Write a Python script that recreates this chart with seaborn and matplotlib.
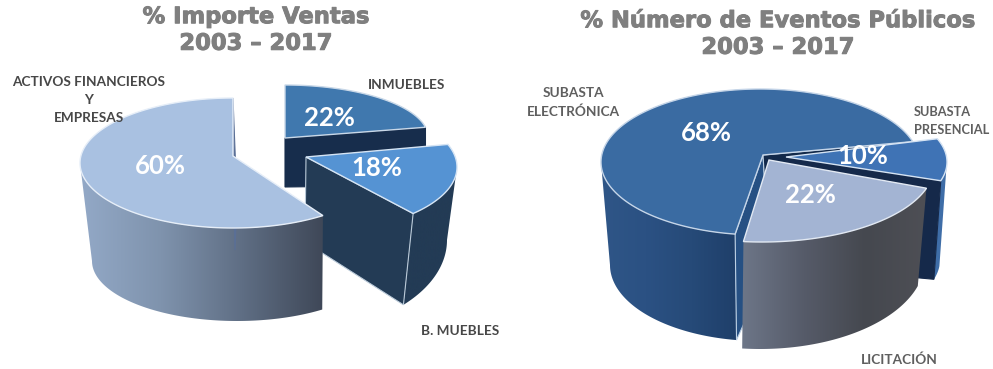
import numpy as np
import matplotlib
matplotlib.use("Agg")
import matplotlib.pyplot as plt
from matplotlib.patches import Polygon
import matplotlib.patheffects as pe
import seaborn as sns

# Shares per chart, in percent
importe_categories = ["INMUEBLES", "B. MUEBLES", "ACTIVOS FINANCIEROS\nY\nEMPRESAS"]
importe_values = [22, 18, 60]
eventos_categories = ["SUBASTA\nELECTRÓNICA", "SUBASTA\nPRESENCIAL", "LICITACIÓN"]
eventos_values = [68, 10, 22]
importe_title = "% Importe Ventas\n2003 – 2017"
eventos_title = "% Número de Eventos Públicos\n2003 – 2017"

sns.set_theme(style="white")
W, H = 993, 369
fig = plt.figure(figsize=(W / 100, H / 100), dpi=100, facecolor="white")
ax = fig.add_axes([0, 0, 1, 1])


def rim(ell, a):
    """Point(s) on an ellipse (cx, cy, rx, ry); angle clockwise from north, degrees."""
    r = np.radians(a)
    return np.column_stack([ell[0] + ell[2] * np.sin(r), ell[1] - ell[3] * np.cos(r)])


def draw_slice(value, s):
    start = s["start"]
    end = start + value * 3.6
    top, bot = s["top"], s["bot"]
    # Cut faces running from the slice centre down to the base
    for edge, colour in s.get("faces", []):
        a = start if edge == "start" else end
        pts = np.vstack([[s["apex"]], rim(top, a), rim(bot, a), [s["apex_bot"]]])
        ax.add_patch(Polygon(pts, closed=True, fc=colour, ec=s.get("face_edge", colour),
                             lw=0.8, zorder=s["z"] + 0.3))
    # Outer wall, shaded left to right
    if "wall" in s:
        lo, hi = max(start, s["wall"][0]), min(end, s["wall"][1])
        a = np.linspace(lo, hi, 120)
        pts = np.vstack([rim(top, a), rim(bot, a)[::-1]])
        poly = Polygon(pts, closed=True, fc="none", ec="none", zorder=s["z"] + 0.2)
        ax.add_patch(poly)
        shade = np.array(sns.blend_palette(s["shade"], 256))[None, :, :]
        im = ax.imshow(shade, extent=[pts[:, 0].min(), pts[:, 0].max(), H, 0],
                       aspect="auto", zorder=s["z"] + 0.1)
        im.set_clip_path(poly)
    # Top surface
    a = np.linspace(start, end, 160)
    pts = np.vstack([[s["apex"]], rim(top, a)])
    ax.add_patch(Polygon(pts, closed=True, fc=s["color"], ec=s["edge"], lw=1.0,
                         zorder=s["z"] + 0.5))


importe_layout = [
    dict(start=0, top=(285, 137, 143, 52), apex=(285, 138), bot=(285, 195, 143, 52),
         apex_bot=(285, 187), color="#4078ae", edge="#c9d8e8",
         faces=[("end", "#172d4c")], z=1),
    dict(start=70, top=(306, 167, 151, 66), apex=(306, 157), bot=(297, 240, 150, 92),
         apex_bot=(305, 242), color="#5593d3", edge="#d5e4f4",
         faces=[("end", "#233b55")], face_edge="#b9c9d8", wall=(90, 140),
         shade=["#233b55", "#233b55"], z=2),
    dict(start=144, top=(233, 163, 153, 65), apex=(233, 156), bot=(237, 261, 145, 60),
         apex_bot=(235, 250), color="#a9c1e1", edge="#e6eef8",
         faces=[("end", "#5a6f96")], wall=(140, 270),
         shade=["#93a9c7", "#7f93ad", "#5f6e84", "#3f4858"], z=3),
]
eventos_layout = [
    dict(start=189, top=(760, 162, 159, 73), apex=(763, 155), bot=(760, 265, 150, 76),
         apex_bot=(770, 265), color="#3a6ba2", edge="#c5d5e8",
         faces=[("start", "#265083"), ("end", "#12294a")], face_edge="#bcd0e4",
         wall=(180, 270), shade=["#2f5687", "#2b5183", "#264a78", "#1f3f6a"], z=1),
    dict(start=70, top=(786, 162, 161, 68), apex=(786, 157), bot=(783, 260, 157, 70),
         apex_bot=(780, 265), color="#3f73b5", edge="#d5e3f3",
         faces=[("end", "#15294a")], wall=(95, 110),
         shade=["#3f6ea8", "#3f6ea8"], z=2),
    dict(start=107, top=(762, 166, 172, 76), apex=(769, 160), bot=(760, 260, 165, 89),
         apex_bot=(760, 260), color="#a3b4d3", edge="#e2e9f3", wall=(100, 190),
         shade=["#6d7688", "#565b69", "#45484f", "#4e4f55"], z=3),
]

for values, layout in [(importe_values, importe_layout), (eventos_values, eventos_layout)]:
    for v, s in zip(values, layout):
        draw_slice(v, s)

ax.set_xlim(0, W)
ax.set_ylim(H, 0)
ax.axis("off")

# Titles
title_font = dict(family="DejaVu Sans", weight="bold", color="#7f7f7f", ha="center",
                  va="center", linespacing=1.2, zorder=10, fontsize=16.3,
                  path_effects=[pe.withStroke(linewidth=0.7, foreground="#7f7f7f")])
ax.text(256, 30, importe_title, **title_font)
ax.text(778, 34, eventos_title, **title_font)

# Percent labels on the top surfaces
pct_xy = [[(329, 118), (377, 168), (160, 166)], [(706, 133), (863, 156), (810, 195)]]
for values, xy in zip([importe_values, eventos_values], pct_xy):
    for v, (x, y) in zip(values, xy):
        ax.text(x, y, f"{v}%", family="Lato", weight="bold", fontsize=18.5, color="white",
                ha="center", va="center", zorder=11)

# Category labels
label_font = dict(family="Lato", weight="bold", fontsize=9.8, va="center", zorder=12)
ax.text(407, 85, importe_categories[0], color="#474747", ha="center", **label_font)
ax.text(460, 331, importe_categories[1], color="#474747", ha="center", **label_font)
ax.text(89, 100, importe_categories[2], color="#474747", ha="center", linespacing=1.55,
        **label_font)
ax.text(573, 102.5, eventos_categories[0], color="#5f5f5f", ha="center", linespacing=1.6,
        **label_font)
ax.text(914, 121.5, eventos_categories[1], color="#5f5f5f", ha="left", linespacing=1.6,
        **{**label_font, "fontsize": 9.2})
ax.text(899, 360, eventos_categories[2], color="#5f5f5f", ha="center", **label_font)

fig.savefig("out.png", dpi=100, facecolor="white")
